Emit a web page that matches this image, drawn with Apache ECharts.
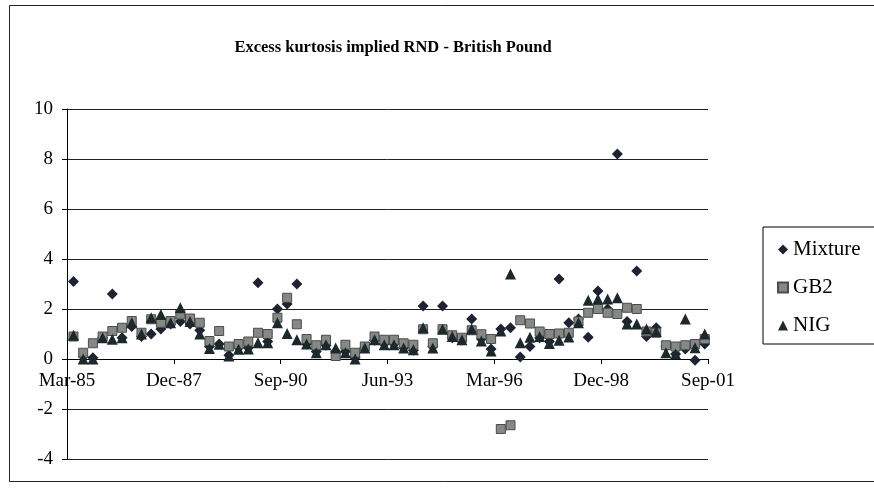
<!DOCTYPE html>
<html>
<head>
<meta charset="UTF-8">
<title>Excess kurtosis implied RND - British Pound</title>
<script src="https://cdn.jsdelivr.net/npm/echarts@6/dist/echarts.min.js"></script>
<style>
  html, body { margin: 0; padding: 0; background: #fff; }
  #chart { width: 874px; height: 488px; }
</style>
</head>
<body>
<div id="chart"></div>
<script>
// observation dates (quarterly)
var dates = ['1985-05','1985-08','1985-11',
  '1986-02','1986-05','1986-08','1986-11','1987-02','1987-05','1987-08','1987-11',
  '1988-02','1988-05','1988-08','1988-11','1989-02','1989-05','1989-08','1989-11',
  '1990-02','1990-05','1990-08','1990-11','1991-02','1991-05','1991-08','1991-11',
  '1992-02','1992-05','1992-08','1992-11','1993-02','1993-05','1993-08','1993-11',
  '1994-02','1994-05','1994-08','1994-11','1995-02','1995-05','1995-08','1995-11',
  '1996-02','1996-05','1996-08','1996-11','1997-02','1997-05','1997-08','1997-11',
  '1998-02','1998-05','1998-08','1998-11','1999-02','1999-05','1999-08','1999-11',
  '2000-02','2000-05','2000-08','2000-11','2001-02','2001-05','2001-08'];

var mixture = [3.1,0.1,0.05,0.85,2.6,0.85,1.3,0.9,1.0,1.2,
  1.4,1.5,1.4,1.15,0.5,0.6,0.15,0.45,0.45,3.05,
  0.7,2.0,2.2,3.0,0.6,0.3,0.55,0.3,0.3,0.05,
  0.45,0.75,0.6,0.6,0.45,0.35,2.12,0.5,2.12,0.85,
  0.75,1.6,0.8,0.4,1.2,1.25,0.08,0.5,0.85,0.7,
  3.2,1.45,1.6,0.87,2.72,2.0,8.2,1.5,3.52,0.9,
  1.25,0.5,0.2,0.4,-0.05,0.6];

var gb2 = [0.9,0.25,0.63,0.9,1.12,1.25,1.52,1.05,1.59,1.45,
  1.52,1.78,1.62,1.45,0.72,1.12,0.5,0.6,0.7,1.05,
  1.0,1.65,2.45,1.39,0.8,0.55,0.77,0.12,0.57,0.25,
  0.5,0.9,0.77,0.77,0.63,0.57,1.19,0.63,1.19,0.95,
  0.85,1.15,0.99,0.8,-2.8,-2.65,1.55,1.42,1.1,1.0,
  1.02,1.05,1.5,1.85,2.0,1.85,1.8,2.05,2.0,1.1,
  1.05,0.55,0.5,0.55,0.6,0.8];

var nig = [0.95,0.0,0.0,0.85,0.79,0.85,1.45,1.0,1.65,1.78,
  1.45,2.05,1.5,1.0,0.42,0.59,0.12,0.39,0.4,0.65,
  0.65,1.45,1.02,0.77,0.6,0.25,0.57,0.44,0.25,0.0,
  0.44,0.77,0.57,0.57,0.44,0.37,1.25,0.44,1.19,0.9,
  0.77,1.2,0.72,0.32,1.12,3.4,0.65,0.87,0.9,0.62,
  0.75,0.88,1.45,2.35,2.4,2.4,2.45,1.4,1.4,1.2,
  1.1,0.25,0.2,1.6,0.45,1.0];

// x axis labels, one every 33 months starting Mar-85
var tickLabels = ['Mar-85','Dec-87','Sep-90','Jun-93','Mar-96','Dec-98','Sep-01'];

var font = 'Liberation Serif';

// months since Mar-85
function monthIndex(d) {
  var p = d.split('-');
  return (parseInt(p[0]) - 1985) * 12 + (parseInt(p[1]) - 3);
}
function pairs(vals) {
  return vals.map(function (v, i) { return [monthIndex(dates[i]), v]; });
}

var myChart = echarts.init(document.getElementById('chart'));

var option = {
  backgroundColor: '#fff',
  animation: false,
  title: {
    text: 'Excess kurtosis implied RND - British Pound',
    left: 388,
    top: 34,
    textAlign: 'center',
    textStyle: { fontFamily: font, fontSize: 16.5, fontWeight: 'bold', color: '#000' }
  },
  graphic: [{
    type: 'rect',
    shape: { x: 9.5, y: 5.5, width: 900, height: 476 },
    style: { fill: 'none', stroke: '#222', lineWidth: 1 },
    silent: true
  }],
  legend: {
    orient: 'vertical',
    left: 763,
    top: 227,
    padding: [12, 20, 8, 14],
    itemGap: 17,
    itemWidth: 10,
    itemHeight: 10,
    backgroundColor: '#fff',
    borderColor: '#000',
    borderWidth: 1,
    borderRadius: 0,
    textStyle: { fontFamily: font, fontSize: 21, color: '#000' },
    data: [
      { name: 'Mixture', icon: 'diamond' },
      { name: 'GB2', icon: 'rect' },
      { name: 'NIG', icon: 'triangle' }
    ]
  },
  grid: { left: 67, right: 166, top: 109, bottom: 29 },
  xAxis: {
    type: 'value',
    min: 0,
    max: 198,
    interval: 33,
    position: 'bottom',
    offset: -100,
    axisLine: { onZero: false, lineStyle: { color: '#000', width: 1 } },
    axisTick: { show: true, length: 5, lineStyle: { color: '#000' } },
    splitLine: { show: false },
    axisLabel: {
      margin: 13,
      fontFamily: font,
      fontSize: 19,
      color: '#000',
      formatter: function (v) { return tickLabels[Math.round(v / 33)] || ''; }
    }
  },
  yAxis: {
    type: 'value',
    min: -4,
    max: 10,
    interval: 2,
    axisLine: { show: true, onZero: false, lineStyle: { color: '#000', width: 1 } },
    axisTick: { show: true, length: 5, lineStyle: { color: '#000' } },
    splitLine: { show: true, lineStyle: { color: '#222', width: 1 } },
    axisLabel: { margin: 14, fontFamily: font, fontSize: 19, color: '#000' }
  },
  series: [
    {
      name: 'Mixture',
      type: 'scatter',
      symbol: 'diamond',
      symbolSize: 11,
      itemStyle: { color: '#1e2233', opacity: 1 },
      data: pairs(mixture),
      z: 3
    },
    {
      name: 'GB2',
      type: 'scatter',
      symbol: 'rect',
      symbolSize: 9,
      itemStyle: { color: '#858885', borderColor: '#4a4d4a', borderWidth: 1, opacity: 1 },
      data: pairs(gb2),
      z: 4
    },
    {
      name: 'NIG',
      type: 'scatter',
      symbol: 'triangle',
      symbolSize: 11,
      itemStyle: { color: '#1c282c', opacity: 1 },
      data: pairs(nig),
      z: 5
    }
  ]
};

myChart.setOption(option);
</script>
</body>
</html>
